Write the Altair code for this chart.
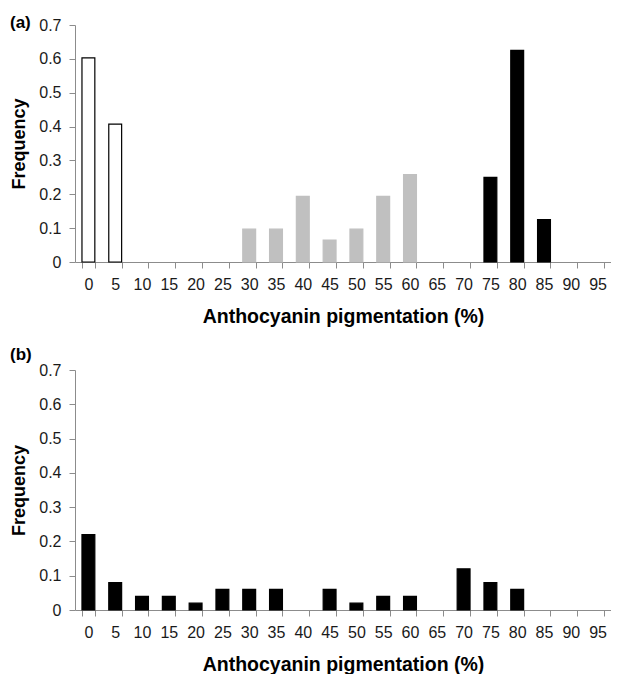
import altair as alt
import pandas as pd

cats = [str(v) for v in range(0, 100, 5)]
y_ticks = [0, 0.1, 0.2, 0.3, 0.4, 0.5, 0.6, 0.7]

a_pct = ["0", "5", "30", "35", "40", "45", "50", "55", "60", "75", "80", "85"]
a_freq = [0.603, 0.407, 0.097, 0.097, 0.194, 0.065, 0.097, 0.194, 0.258, 0.25, 0.625, 0.125]
a_grp = ["white", "white", "gray", "gray", "gray", "gray", "gray", "gray", "gray", "black", "black", "black"]

b_pct = ["0", "5", "10", "15", "20", "25", "30", "35", "45", "50", "55", "60", "70", "75", "80"]
b_freq = [0.22, 0.08, 0.04, 0.04, 0.02, 0.06, 0.06, 0.06, 0.06, 0.02, 0.04, 0.04, 0.12, 0.08, 0.06]
b_grp = ["black"] * len(b_pct)

grp_dom = ["white", "gray", "black"]
fill_rng = ["#ffffff", "#c0c0c0", "#000000"]
stroke_rng = ["#000000", "#c0c0c0", "#000000"]

FONT = "Liberation Sans"


def panel(pct, freq, grp, label, label_y, h):
    df = pd.DataFrame({"pct": pct, "freq": freq, "grp": grp})
    bars = alt.Chart(df).mark_bar(strokeWidth=1.2).encode(
        x=alt.X(
            "pct:N",
            sort=cats,
            scale=alt.Scale(domain=cats, paddingInner=0.52, paddingOuter=0.26),
            axis=alt.Axis(
                title="Anthocyanin pigmentation (%)",
                labelAngle=0,
                tickBand="extent",
                tickSize=6,
                labelPadding=8,
                titlePadding=15,
                titleFontSize=19.5,
            ),
        ),
        y=alt.Y(
            "freq:Q",
            scale=alt.Scale(domain=[0, 0.7], nice=False),
            axis=alt.Axis(
                title="Frequency",
                values=y_ticks,
                format=".1~f",
                tickSize=6,
                labelPadding=8,
                titlePadding=10,
                titleFontSize=18,
            ),
        ),
        fill=alt.Fill("grp:N", scale=alt.Scale(domain=grp_dom, range=fill_rng), legend=None),
        stroke=alt.Stroke("grp:N", scale=alt.Scale(domain=grp_dom, range=stroke_rng), legend=None),
    )
    lab = alt.Chart(pd.DataFrame({"t": [label]})).mark_text(
        font=FONT, fontSize=17, fontWeight="bold", align="left", baseline="middle", color="#000000"
    ).encode(x=alt.value(-65), y=alt.value(label_y), text="t:N")
    return alt.layer(bars, lab).properties(width=536, height=h)


top = panel(a_pct, a_freq, a_grp, "(a)", -2, 237)
bot = panel(b_pct, b_freq, b_grp, "(b)", -15, 240)

chart = alt.vconcat(top, bot, spacing=108, bounds="flush").properties(
    padding={"left": 2, "top": 6, "right": 0, "bottom": 0}
).configure_view(
    stroke=None
).configure_axis(
    grid=False,
    domainColor="#8c8c8c",
    tickColor="#8c8c8c",
    labelFont=FONT,
    labelFontSize=16,
    labelColor="#1a1a1a",
    titleFont=FONT,
    titleFontWeight="bold",
    titleColor="#000000",
)

chart.save("out.html", embed_options={"renderer": "svg", "actions": False})
